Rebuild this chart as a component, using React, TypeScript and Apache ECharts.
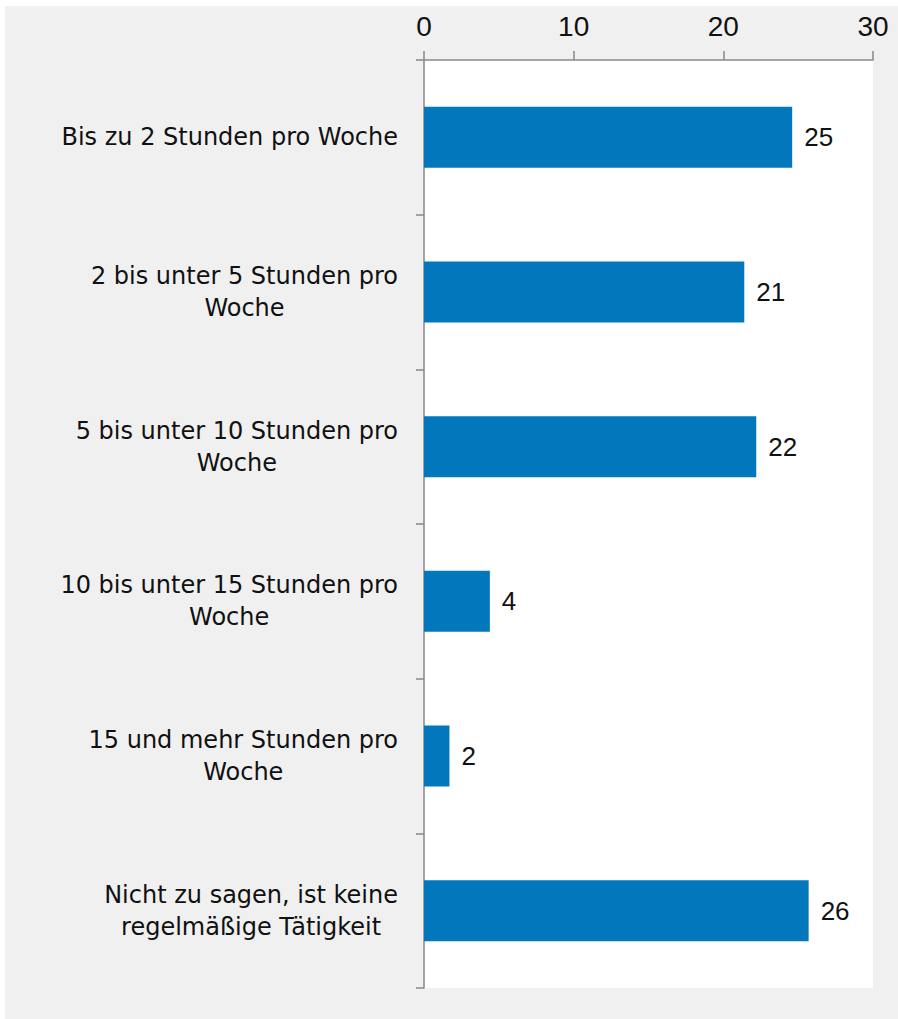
import React, { useEffect, useRef } from "react";
import * as echarts from "echarts";

const categories = [
  "Bis zu 2 Stunden pro Woche",
  "2 bis unter 5 Stunden pro\nWoche",
  "5 bis unter 10 Stunden pro\nWoche",
  "10 bis unter 15 Stunden pro\nWoche",
  "15 und mehr Stunden pro\nWoche",
  "Nicht zu sagen, ist keine\nregelmäßige Tätigkeit",
];
const values = [24.6, 21.4, 22.2, 4.4, 1.7, 25.7];
const axisMin = 0;
const axisMax = 30;
const axisInterval = 10;

const CAT_FONT = "'DejaVu Sans', sans-serif";
const NUM_FONT = "'Liberation Sans', Arial, sans-serif";

export default function App() {
  const ref = useRef<HTMLDivElement>(null);
  useEffect(() => {
    if (!ref.current) return;
    const chart = echarts.init(ref.current, null, { renderer: "svg" });
    chart.setOption({
      animation: false,
      backgroundColor: "#f0f0f0",
      grid: {
        left: 419,
        top: 54,
        width: 449,
        height: 928,
        show: true,
        backgroundColor: "#ffffff",
        borderWidth: 0,
      },
      xAxis: {
        type: "value",
        position: "top",
        min: axisMin,
        max: axisMax,
        interval: axisInterval,
        axisLine: { show: true, lineStyle: { color: "#888888", width: 1.5 } },
        axisTick: { show: true, length: 9, lineStyle: { color: "#888888", width: 1.5 } },
        splitLine: { show: false },
        axisLabel: {
          margin: 20,
          color: "#111111",
          fontSize: 28,
          fontFamily: NUM_FONT,
        },
      },
      yAxis: {
        type: "category",
        inverse: true,
        data: categories,
        axisLine: { show: true, lineStyle: { color: "#888888", width: 1.5 } },
        axisTick: { show: true, length: 8, lineStyle: { color: "#888888", width: 1.5 } },
        axisLabel: {
          margin: 26,
          align: "right",
          formatter: (v: string) =>
            v
              .split("\n")
              .map((l) => `{c|${l}}`)
              .join("\n"),
          rich: {
            c: {
              align: "center",
              fontSize: 24,
              lineHeight: 32,
              color: "#111111",
              fontFamily: CAT_FONT,
            },
          },
        },
      },
      series: [
        {
          type: "bar",
          data: values,
          barWidth: 61,
          itemStyle: { color: "#0277bb" },
          label: {
            show: true,
            position: "right",
            distance: 12,
            fontSize: 26,
            color: "#111111",
            fontFamily: NUM_FONT,
            formatter: (p: any) => String(Math.round(p.value)),
          },
        },
      ],
    });
    return () => chart.dispose();
  }, []);
  return (
    <div
      ref={ref}
      style={{ position: "absolute", left: 5, top: 6, width: 893, height: 1013 }}
    />
  );
}
